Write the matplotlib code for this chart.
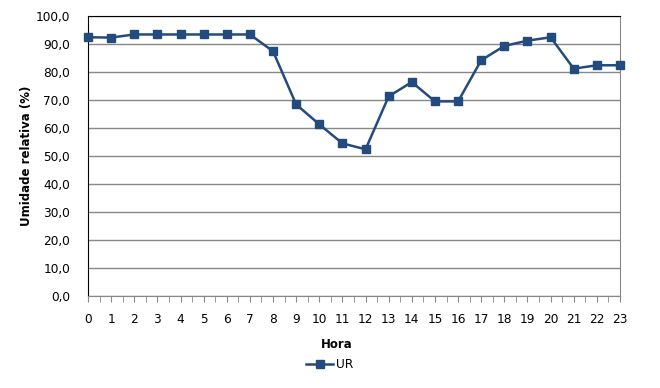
import numpy as np
import matplotlib
matplotlib.use("Agg")
import matplotlib.pyplot as plt
from matplotlib.ticker import MultipleLocator, FuncFormatter

hora = list(range(24))
ur = [92.4, 92.3, 93.4, 93.4, 93.4, 93.4, 93.4, 93.4, 87.4, 68.4, 61.3, 54.5,
      52.4, 71.3, 76.4, 69.5, 69.5, 84.2, 89.3, 91.2, 92.4, 81.2, 82.4, 82.4]

cor = '#234B7E'
plt.rcParams['font.family'] = ['DejaVu Sans']

fig = plt.figure(figsize=(6.6, 3.88), dpi=100)
ax = fig.add_axes([88/660, 92/388, 532/660, 280/388])

ax.plot(hora, ur, color=cor, lw=1.8, marker='s', markersize=6, label='UR', clip_on=False, zorder=3)

ax.set_xlim(0, 23)
ax.set_ylim(0, 100)
ax.yaxis.set_major_locator(MultipleLocator(10))
ax.yaxis.set_major_formatter(FuncFormatter(lambda v, p: ('%.1f' % v).replace('.', ',')))
ax.xaxis.set_major_locator(MultipleLocator(1))
ax.xaxis.set_minor_locator(MultipleLocator(0.5))
ax.grid(axis='y', color='#888888', lw=1)
ax.set_axisbelow(True)

for s in ['left', 'top']:
    ax.spines[s].set_color('black')
for s in ['right', 'bottom']:
    ax.spines[s].set_color('#888888')
ax.tick_params(axis='y', length=0, labelsize=8.7, pad=13)
ax.tick_params(axis='x', which='both', length=4, color='#888888', labelsize=8.7, pad=8)

ax.set_ylabel('Umidade relativa (%)', fontsize=8.5, fontweight='bold', labelpad=2)
fig.text(337/660, 1 - 345/388, 'Hora', fontsize=8.5, fontweight='bold', ha='center', va='center')

fig.legend(loc='center', bbox_to_anchor=(330/660, 1 - 365/388), frameon=False,
           fontsize=8.7, handlelength=2.2, handletextpad=0.3)

fig.savefig('out.png', dpi=100)
